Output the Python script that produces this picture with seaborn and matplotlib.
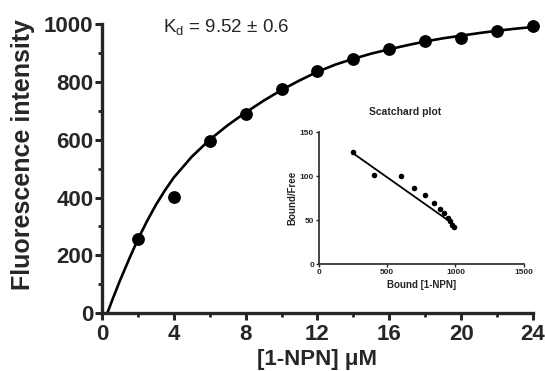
import numpy as np
import pandas as pd
import matplotlib
matplotlib.use("Agg")
import matplotlib.pyplot as plt
import seaborn as sns

# Binding data
conc = [2, 4, 6, 8, 10, 12, 14, 16, 18, 20, 22, 24]
fluor = [255, 403, 597, 690, 775, 838, 878, 913, 940, 953, 977, 992]

# Fitted saturation curve
fit_x = [0.3, 0.6, 1, 1.5, 2, 2.5, 3, 3.5, 4, 5, 6, 7, 8, 9, 10, 11, 12,
         13, 14, 15, 16, 17, 18, 19, 20, 21, 22, 23, 24]
fit_y = [0, 49, 112, 185, 255, 317, 374, 424, 469, 541, 600, 650, 694,
         735, 772, 805, 835, 860, 880, 898, 913, 927, 940, 951, 960, 969,
         977, 984, 990]

# Scatchard inset
bound = [250, 402, 600, 695, 776, 841, 885, 915, 944, 958, 973, 988]
bound_free = [127, 101, 100, 86, 78, 70, 63, 58, 52, 49, 45, 42]
sc_line_x = [250, 990]
sc_line_y = [126, 45]

sns.set_style("ticks")
plt.rcParams["font.family"] = ["Liberation Sans", "DejaVu Sans"]
plt.rcParams["mathtext.fontset"] = "custom"
plt.rcParams["mathtext.rm"] = "Liberation Sans"
plt.rcParams["mathtext.it"] = "Liberation Sans:italic"

fig = plt.figure(figsize=(5.45, 3.71), dpi=100)
ax = fig.add_axes([0.187, 0.156, 0.791, 0.779])

df = pd.DataFrame({"x": conc, "y": fluor})
fit = pd.DataFrame({"x": fit_x, "y": fit_y})
sns.lineplot(data=fit, x="x", y="y", ax=ax, color="black", linewidth=1.9, sort=False)
sns.scatterplot(data=df, x="x", y="y", ax=ax, color="black", s=85,
                edgecolor="black", linewidth=0, clip_on=False, zorder=5)

ax.set_xlim(0, 24)
ax.set_ylim(0, 1000)
ax.set_xticks(range(0, 25, 4))
ax.set_xticks(range(2, 25, 4), minor=True)
ax.set_yticks(range(0, 1001, 200))
ax.set_yticks(range(100, 1000, 200), minor=True)
for s in ["top", "right"]:
    ax.spines[s].set_visible(False)
for s in ["left", "bottom"]:
    ax.spines[s].set_linewidth(2.4)
ax.tick_params(which="major", length=5, width=2.2, labelsize=16, pad=1)
ax.tick_params(axis="x", which="major", pad=3)
ax.tick_params(which="minor", length=3, width=2.0)
for lbl in ax.get_xticklabels() + ax.get_yticklabels():
    lbl.set_fontweight("bold")
ax.set_xlabel("[1-NPN] μM", fontsize=16, fontweight="bold", labelpad=3)
ax.set_ylabel("Fluorescence intensity", fontsize=18, fontweight="bold")
ax.yaxis.set_label_coords(-0.155, 0.55)

ax.text(3.4, 990, r"K$_\mathrm{d}$ = 9.52 ± 0.6", fontsize=13.5, ha="left",
        va="center", clip_on=False)

# Inset Scatchard plot
ins = fig.add_axes([0.585, 0.288, 0.376, 0.356])
sns.lineplot(x=sc_line_x, y=sc_line_y, ax=ins, color="black", linewidth=1.3)
sns.scatterplot(x=bound, y=bound_free, ax=ins, color="black", s=16,
                linewidth=0, zorder=5)
ins.set_xlim(0, 1500)
ins.set_ylim(0, 150)
ins.set_xticks([0, 500, 1000, 1500])
ins.set_yticks([0, 50, 100, 150])
for s in ["top", "right"]:
    ins.spines[s].set_visible(False)
for s in ["left", "bottom"]:
    ins.spines[s].set_linewidth(1.2)
ins.tick_params(length=2.5, width=1.0, labelsize=6, pad=1)
for lbl in ins.get_xticklabels() + ins.get_yticklabels():
    lbl.set_fontweight("bold")
ins.set_xlabel("Bound [1-NPN]", fontsize=7, fontweight="bold", labelpad=3)
ins.set_ylabel("Bound/Free", fontsize=7, fontweight="bold", labelpad=2)
ins.set_facecolor("none")

fig.text(0.743, 0.698, "Scatchard plot", fontsize=7.5, fontweight="bold",
         ha="center", va="center")

fig.savefig("out.png", dpi=100)
